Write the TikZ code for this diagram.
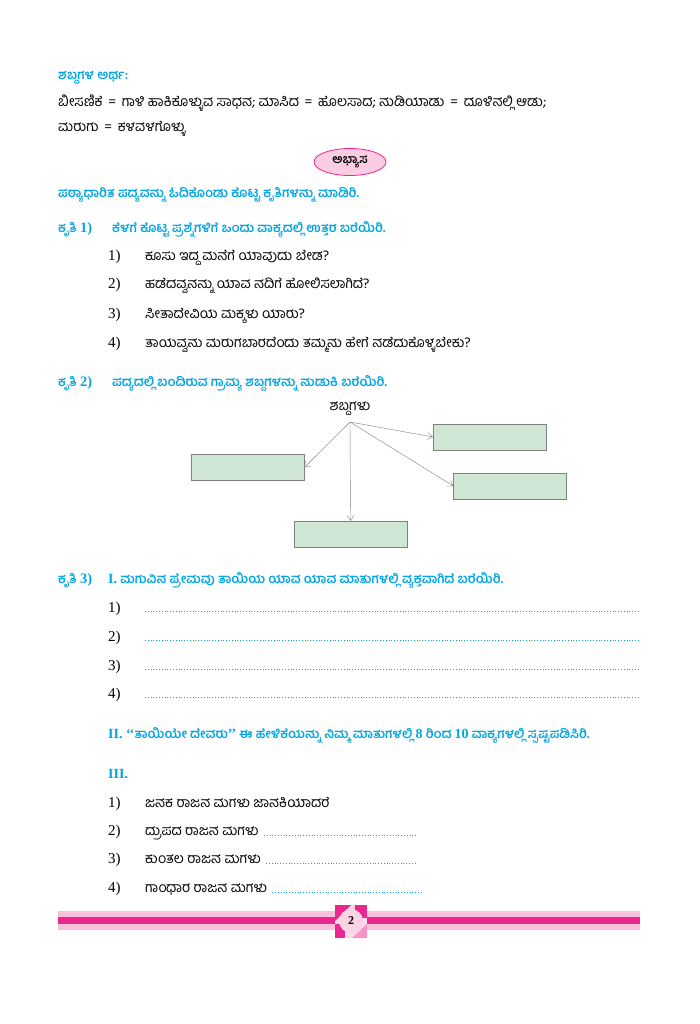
\documentclass[tikz,border=0pt]{standalone}
\usepackage{fontspec}
\setmainfont{Liberation Serif}
\newfontfamily\kn[Script=Kannada]{Hind Mysuru}
\newfontfamily\lat{Liberation Serif}
\usetikzlibrary{positioning,arrows.meta,shapes.geometric}
\definecolor{headblue}{RGB}{0,166,228}
\definecolor{barpink}{RGB}{236,38,143}
\definecolor{palepink}{RGB}{248,192,218}
\definecolor{ovalpink}{RGB}{250,205,226}
\definecolor{boxgreen}{RGB}{206,230,211}

\begin{document}
\begin{tikzpicture}[x=1pt,y=-1pt]
\tikzstyle{head} = [anchor=base west, inner sep=0pt, text=headblue, font=\kn\bfseries\fontsize{12.8}{14}\selectfont]
\tikzstyle{body} = [anchor=base west, inner sep=0pt, font=\kn\fontsize{14}{16}\selectfont]
\tikzstyle{num} = [anchor=base west, inner sep=0pt, font=\fontsize{15}{16}\selectfont]
\tikzstyle{roman} = [anchor=base west, inner sep=0pt, text=headblue, font=\bfseries\fontsize{14}{15}\selectfont]
\tikzstyle{answer} = [rectangle, minimum width=113pt, minimum height=26pt, fill=boxgreen, draw=gray, inner sep=0pt]
\tikzstyle{arrow} = [gray, thin, -{Straight Barb[length=5pt,width=7pt]}]
\tikzstyle{dotline} = [headblue, dotted, line width=0.8pt]

\useasboundingbox[fill=white] (0,0) rectangle (699,1024);

%meanings
\node (meanhead) [head] at (58,80) {ಶಬ್ದಗಳ ಅರ್ಥ:};
\node (mean1) [body] at (58,107) {ಬೀಸಣಿಕೆ \,=\, ಗಾಳಿ ಹಾಕಿಕೊಳ್ಳುವ ಸಾಧನ; ಮಾಸಿದ \,=\, ಹೊಲಸಾದ; ಹುಡಿಯಾಡು \,=\, ದೂಳಿನಲ್ಲಿ ಆಡು;};
\node (mean2) [body] at (58,132) {ಮರುಗು \,=\, ಕಳವಳಗೊಳ್ಳು};

%exercise
\node (practice) [ellipse, draw=barpink, fill=ovalpink, thick, minimum width=72pt, minimum height=27pt, inner sep=0pt,
  font=\kn\bfseries\fontsize{12}{13}\selectfont] at (350,162) {ಅಭ್ಯಾಸ};
\node (task) [head] at (58,198) {ಪಠ್ಯಾಧಾರಿತ ಪದ್ಯವನ್ನು ಓದಿಕೊಂಡು ಕೊಟ್ಟ ಕೃತಿಗಳನ್ನು ಮಾಡಿರಿ.};

%task 1
\node (k1) [head] at (58,233) {ಕೃತಿ {\lat\fontsize{14.5}{15}\selectfont 1)}};
\node (k1text) [head] at (112,233) {ಕೆಳಗೆ ಕೊಟ್ಟ ಪ್ರಶ್ನೆಗಳಿಗೆ ಒಂದು ವಾಕ್ಯದಲ್ಲಿ ಉತ್ತರ ಬರೆಯಿರಿ.};
\node (n1) [num] at (108,260) {1)};
\node (q1) [body] at (145,260) {ಕೂಸು ಇದ್ದ ಮನೆಗೆ ಯಾವುದು ಬೇಡ?};
\node (n2) [num] at (108,288) {2)};
\node (q2) [body] at (145,288) {ಹಡೆದವ್ವನನ್ನು ಯಾವ ನದಿಗೆ ಹೋಲಿಸಲಾಗಿದೆ?};
\node (n3) [num] at (108,318) {3)};
\node (q3) [body] at (145,318) {ಸೀತಾದೇವಿಯ ಮಕ್ಕಳು ಯಾರು?};
\node (n4) [num] at (108,347) {4)};
\node (q4) [body] at (145,347) {ತಾಯವ್ವನು ಮರುಗಬಾರದೆಂದು ತಮ್ಮನು ಹೇಗೆ ನಡೆದುಕೊಳ್ಳಬೇಕು?};

%task 2
\node (k2) [head] at (58,386) {ಕೃತಿ {\lat\fontsize{14.5}{15}\selectfont 2)}};
\node (k2text) [head] at (112,386) {ಪದ್ಯದಲ್ಲಿ ಬಂದಿರುವ ಗ್ರಾಮ್ಯ ಶಬ್ದಗಳನ್ನು ಹುಡುಕಿ ಬರೆಯಿರಿ.};
\node (words) [body, anchor=base] at (350,410) {ಶಬ್ದಗಳು};
\coordinate (hub) at (350,422);
\node (wtop) [answer] at (489.5,437) {};
\node (wleft) [answer] at (247.5,467.5) {};
\node (wright) [answer] at (510,486) {};
\node (wbottom) [answer] at (350.5,534) {};

%lines
\draw [arrow] (hub) -- (wtop.west);
\draw [arrow] (hub) -- (wleft.east);
\draw [arrow] (hub) -- (wright.west);
\draw [arrow] (hub) -- (wbottom.north);

%task 3
\node (k3) [head] at (58,583) {ಕೃತಿ {\lat\fontsize{14.5}{15}\selectfont 3)}};
\node (k3text) [head] at (108,583) {{\lat\fontsize{14}{15}\selectfont I.} ಮಗುವಿನ ಪ್ರೇಮವು ತಾಯಿಯ ಯಾವ ಯಾವ ಮಾತುಗಳಲ್ಲಿ ವ್ಯಕ್ತವಾಗಿದೆ ಬರೆಯಿರಿ.};
\foreach \i/\y in {1/612,2/641,3/670,4/698}{
  \node (a\i) [num] at (108,\y) {\i)};
  \draw [dotline] (145,\y-1) -- (638,\y-1);
}
\node (two) [head] at (108,738) {{\lat\fontsize{14}{15}\selectfont II. ‘‘}ತಾಯಿಯೇ ದೇವರು{\lat\fontsize{14}{15}\selectfont ’’} ಈ ಹೇಳಿಕೆಯನ್ನು ನಿಮ್ಮ ಮಾತುಗಳಲ್ಲಿ {\lat\fontsize{14}{15}\selectfont 8} ರಿಂದ {\lat\fontsize{14}{15}\selectfont 10} ವಾಕ್ಯಗಳಲ್ಲಿ ಸ್ಪಷ್ಟಪಡಿಸಿರಿ.};
\node (three) [roman] at (108,778) {III.};

\node (b1) [num] at (108,807) {1)};
\node (c1) [body] at (145,807) {ಜನಕ ರಾಜನ ಮಗಳು ಜಾನಕಿಯಾದರೆ};
\node (b2) [num] at (108,835) {2)};
\node (c2) [body] at (145,835) {ದ್ರುಪದ ರಾಜನ ಮಗಳು};
\node (b3) [num] at (108,863) {3)};
\node (c3) [body] at (145,863) {ಕುಂತಲ ರಾಜನ ಮಗಳು};
\node (b4) [num] at (108,892) {4)};
\node (c4) [body] at (145,892) {ಗಾಂಧಾರ ರಾಜನ ಮಗಳು};
\coordinate (d2) at (416,835);
\coordinate (d3) at (416,863);
\coordinate (d4) at (423,892);
\draw [dotline] ([xshift=5pt]c2.base east) -- (d2);
\draw [dotline] ([xshift=5pt]c3.base east) -- (d3);
\draw [dotline] ([xshift=5pt]c4.base east) -- (d4);

%footer
\fill [palepink] (58,911) rectangle (640,930);
\fill [barpink] (58,917) rectangle (640,924);
\fill [palepink!60] (335,905) rectangle (367,938);
\fill [barpink] (335,905) -- (351,905) -- (335,921) -- cycle;
\fill [barpink] (355,905) rectangle (367,918);
\fill [barpink] (335,924) rectangle (345,938);
\fill [barpink!50] (352,938) -- (367,924) -- (367,938) -- cycle;
\node (page) [circle, fill=palepink!70, minimum size=24pt, inner sep=0pt, font=\bfseries\fontsize{12}{13}\selectfont] at (351,921) {2};
\end{tikzpicture}
\end{document}
